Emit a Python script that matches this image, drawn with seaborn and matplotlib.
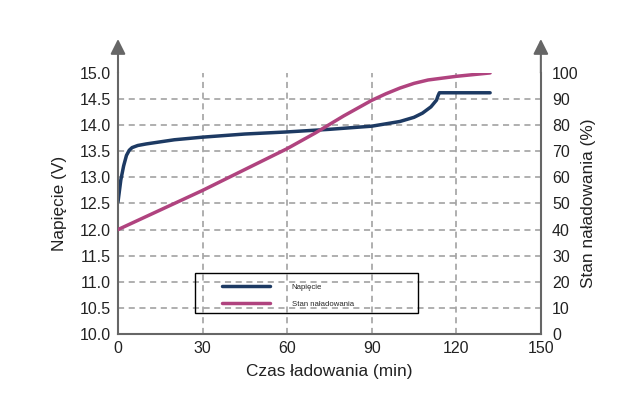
import matplotlib
matplotlib.use("Agg")
import matplotlib.pyplot as plt
import seaborn as sns
import pandas as pd
from matplotlib.patches import Rectangle

# Charging voltage curve (min, V)
time_v = [0, 1, 2, 3, 4, 5, 7, 10, 15, 20, 30, 45, 60, 75, 90, 100, 105, 108, 111, 113, 113.5, 114, 132]
voltage = [12.53, 12.95, 13.22, 13.42, 13.52, 13.57, 13.61, 13.64, 13.68, 13.72, 13.77, 13.83, 13.87,
           13.92, 13.98, 14.07, 14.15, 14.23, 14.35, 14.48, 14.56, 14.62, 14.62]

# State of charge curve (min, %)
time_soc = [0, 15, 30, 45, 60, 70, 80, 90, 95, 100, 105, 110, 120, 132]
soc = [40, 47.5, 55, 63, 71, 77, 83.5, 89.5, 92, 94.2, 96, 97.3, 98.7, 100]

x_ticks = [0, 30, 60, 90, 120, 150]
v_ticks = [10.0, 10.5, 11.0, 11.5, 12.0, 12.5, 13.0, 13.5, 14.0, 14.5, 15.0]
soc_ticks = [0, 10, 20, 30, 40, 50, 60, 70, 80, 90, 100]

df_v = pd.DataFrame({"t": time_v, "v": voltage})
df_s = pd.DataFrame({"t": time_soc, "s": soc})

sns.set_style("white")
plt.rcParams["font.family"] = ["Liberation Sans", "DejaVu Sans"]

navy = "#1d3a63"
magenta = "#b0437f"
axis_gray = "#666666"

fig = plt.figure(figsize=(6.26, 3.97), dpi=100)
ax = fig.add_axes([0.1885, 0.1587, 0.6755, 0.6576])
ax2 = ax.twinx()

sns.lineplot(data=df_v, x="t", y="v", ax=ax, color=navy, lw=2.5, label="Napięcie", legend=False)
sns.lineplot(data=df_s, x="t", y="s", ax=ax2, color=magenta, lw=2.5, label="Stan naładowania", legend=False)

ax.set_xlim(0, 150)
ax.set_ylim(10, 15)
ax2.set_ylim(0, 100)
ax.set_xticks(x_ticks)
ax.set_yticks(v_ticks)
ax.set_yticklabels([f"{v:.1f}" for v in v_ticks])
ax2.set_yticks(soc_ticks)

ax.grid(True, ls=(0, (4, 3)), color="#9a9a9a", lw=1.1)
ax2.grid(False)
ax.yaxis.get_gridlines()[-1].set_visible(False)
for gl in (ax.xaxis.get_gridlines()[0], ax.xaxis.get_gridlines()[-1]):
    gl.set_visible(False)

for s in ("top", "right"):
    ax.spines[s].set_visible(False)
for s in ("top", "left", "bottom"):
    ax2.spines[s].set_visible(False)
for sp in (ax.spines["left"], ax.spines["bottom"], ax2.spines["right"]):
    sp.set_color(axis_gray)
    sp.set_linewidth(1.5)

ax.tick_params(axis="both", length=0, labelsize=11.5, labelcolor="#222222")
ax.tick_params(axis="y", pad=5)
ax.tick_params(axis="x", pad=5)
ax2.tick_params(axis="y", length=0, labelsize=11.5, labelcolor="#222222", pad=8)

ax.set_xlabel("Czas ładowania (min)", fontsize=12.4, labelpad=6, color="#222222")
ax.set_ylabel("Napięcie (V)", fontsize=12.4, labelpad=9, color="#222222")
ax2.set_ylabel("Stan naładowania (%)", fontsize=12.4, labelpad=2, color="#222222")

# arrow heads on the vertical axes
for xa in (0, 1):
    ax.annotate("", xy=(xa, 1.13), xytext=(xa, 1.0), xycoords="axes fraction",
                arrowprops=dict(arrowstyle="-|>,head_length=0.9,head_width=0.45",
                                color=axis_gray, lw=1.5, shrinkA=0, shrinkB=0),
                annotation_clip=False)

# legend with an unfilled box
handles = ax.get_lines()[:1] + ax2.get_lines()[:1]
ax2.legend(handles, [h.get_label() for h in handles], loc="upper left",
           bbox_to_anchor=(0.245, 0.194), frameon=False, fontsize=5.6,
           handlelength=6.2, handletextpad=2.8, labelspacing=1.2,
           borderpad=0, borderaxespad=0)
ax2.add_patch(Rectangle((0.182, 0.08), 0.527, 0.154, transform=ax2.transAxes,
                        fill=False, ec="black", lw=1, clip_on=False))

fig.savefig("out.png", dpi=100)
